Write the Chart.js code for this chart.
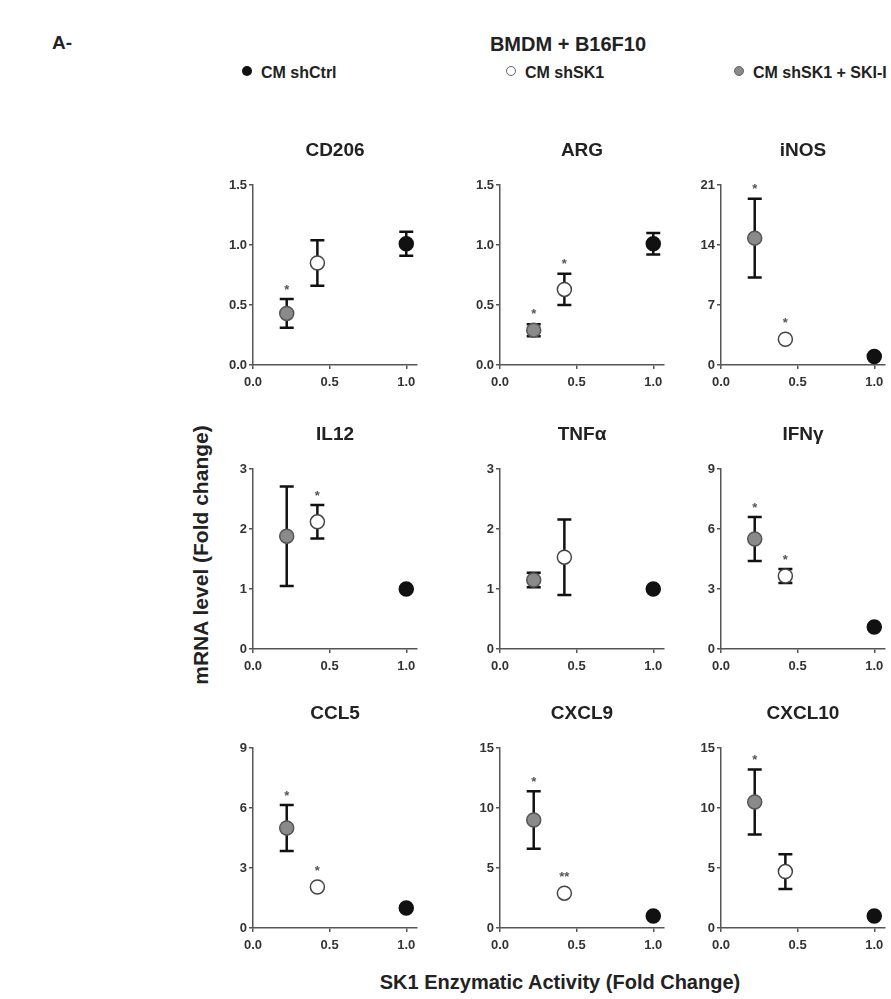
<!DOCTYPE html>
<html>
<head>
<meta charset="utf-8">
<script src="https://cdn.jsdelivr.net/npm/chart.js@4.4.0/dist/chart.umd.min.js"></script>
<style>
  body { margin: 0; background: #fff; font-family: 'Liberation Sans', Arial, sans-serif; }
  #page { position: relative; width: 891px; height: 999px; overflow: hidden; }
  .panel { position: absolute; }
  .txt { position: absolute; font-weight: bold; color: #222; white-space: nowrap; transform: translate(-50%, -50%); }
  .leg { position: absolute; font-weight: bold; color: #222; white-space: nowrap; transform: translate(0, -50%); font-size: 16px; }
  .dot { display: inline-block; width: 10px; height: 10px; border-radius: 50%; margin-right: 9px; vertical-align: 2px; box-sizing: border-box; }
</style>
</head>
<body>
<div id="page">
  <div class="txt" style="left:62px; top:43px; font-size:19px;">A-</div>
  <div class="txt" style="left:568px; top:44px; font-size:20px;">BMDM + B16F10</div>
  <div class="leg" style="left:242px; top:73px;"><span class="dot" style="background:#111;"></span>CM shCtrl</div>
  <div class="leg" style="left:506px; top:73px;"><span class="dot" style="background:#fff; border:1.5px solid #666;"></span>CM shSK1</div>
  <div class="leg" style="left:734px; top:73px;"><span class="dot" style="background:#8a8a8a; border:1.5px solid #666;"></span>CM shSK1 + SKI-I</div>
  <div class="txt" style="left:201px; top:555px; font-size:21px; transform: translate(-50%, -50%) rotate(-90deg);">mRNA level (Fold change)</div>
  <div class="txt" style="left:560px; top:982px; font-size:20px;">SK1 Enzymatic Activity (Fold Change)</div>
</div>
<script>
// panels and groups
const genes = ['CD206', 'ARG', 'iNOS', 'IL12', 'TNFα', 'IFNγ', 'CCL5', 'CXCL9', 'CXCL10'];
const groups = ['CM shCtrl', 'CM shSK1', 'CM shSK1 + SKI-I'];
// x position of each group (SK1 activity, fold change)
const sk1Activity = [1.0, 0.42, 0.22];
const xTicks = [0.0, 0.5, 1.0];

// y axis range per panel
const yMax = [1.5, 1.5, 21, 3, 3, 9, 9, 15, 15];
const yStep = [0.5, 0.5, 7, 1, 1, 3, 3, 5, 5];

// mean +/- error
const ctrlMean = [1.01, 1.01, 1.0, 1.0, 1.0, 1.1, 1.0, 1.0, 1.0];
const ctrlErr  = [0.10, 0.09, 0, 0, 0, 0, 0, 0, 0];
const shMean   = [0.85, 0.63, 3.0, 2.12, 1.53, 3.65, 2.05, 2.9, 4.7];
const shErr    = [0.19, 0.13, 0, 0.28, 0.63, 0.35, 0, 0, 1.45];
const skiMean  = [0.43, 0.29, 14.8, 1.88, 1.15, 5.5, 5.0, 9.0, 10.5];
const skiErr   = [0.12, 0.05, 4.6, 0.83, 0.12, 1.1, 1.15, 2.4, 2.7];

// significance marks
const shStars  = ['', '*', '*', '*', '', '*', '*', '**', ''];
const skiStars = ['*', '*', '*', '', '', '*', '*', '*', '*'];

// layout of the 3x3 grid
const colLeft = [203, 450, 671];
const rowTop = [139, 423, 702];
const POINT_R = 7;

const axisColor = '#555';
const fontFamily = "'Liberation Sans', Arial, sans-serif";
const tickFont = { family: fontFamily, size: 13, weight: 'bold' };

// draws error bars behind the markers and asterisks above them
const errorBars = {
    id: 'errorBars',
    beforeDatasetsDraw(chart) {
        const { ctx, scales: { y } } = chart;
        chart.data.datasets.forEach((ds, d) => {
            chart.getDatasetMeta(d).data.forEach((pt, k) => {
                const e = ds.err[k];
                if (!e) return;
                const v = ds.data[k].y;
                const top = y.getPixelForValue(v + e);
                const bot = y.getPixelForValue(v - e);
                ctx.save();
                ctx.strokeStyle = '#111';
                ctx.lineWidth = 2.5;
                ctx.beginPath();
                ctx.moveTo(pt.x, top); ctx.lineTo(pt.x, bot);
                ctx.moveTo(pt.x - 7, top); ctx.lineTo(pt.x + 7, top);
                ctx.moveTo(pt.x - 7, bot); ctx.lineTo(pt.x + 7, bot);
                ctx.stroke();
                ctx.restore();
            });
        });
    },
    afterDatasetsDraw(chart) {
        const { ctx, scales: { y } } = chart;
        chart.data.datasets.forEach((ds, d) => {
            chart.getDatasetMeta(d).data.forEach((pt, k) => {
                const s = ds.stars[k];
                if (!s) return;
                const v = ds.data[k].y;
                const top = Math.min(y.getPixelForValue(v + ds.err[k]), pt.y - POINT_R);
                ctx.save();
                ctx.fillStyle = '#555';
                ctx.font = 'bold 13px ' + fontFamily;
                ctx.textAlign = 'center';
                ctx.textBaseline = 'middle';
                ctx.fillText(s, pt.x, top - 9);
                ctx.restore();
            });
        });
    }
};

function makePanel(i) {
    const div = document.createElement('div');
    div.className = 'panel';
    div.style.left = colLeft[i % 3] + 'px';
    div.style.top = rowTop[Math.floor(i / 3)] + 'px';
    const canvas = document.createElement('canvas');
    canvas.width = 226;
    canvas.height = 256;
    div.appendChild(canvas);
    document.getElementById('page').appendChild(div);

    const step = yStep[i];
    new Chart(canvas, {
        type: 'scatter',
        data: {
            datasets: [
                {
                    label: groups[0],
                    data: [{ x: sk1Activity[0], y: ctrlMean[i] }],
                    err: [ctrlErr[i]], stars: [''],
                    backgroundColor: '#111', borderColor: '#111'
                },
                {
                    label: groups[1],
                    data: [{ x: sk1Activity[1], y: shMean[i] }],
                    err: [shErr[i]], stars: [shStars[i]],
                    backgroundColor: '#fff', borderColor: '#444'
                },
                {
                    label: groups[2],
                    data: [{ x: sk1Activity[2], y: skiMean[i] }],
                    err: [skiErr[i]], stars: [skiStars[i]],
                    backgroundColor: '#8a8a8a', borderColor: '#555'
                }
            ]
        },
        options: {
            responsive: false,
            animation: false,
            layout: { padding: { left: 10, right: 12, top: 0, bottom: 4 } },
            elements: { point: { radius: POINT_R, borderWidth: 1.5, pointStyle: 'circle' } },
            scales: {
                x: {
                    type: 'linear', min: 0, max: 1.07,
                    afterBuildTicks: s => { s.ticks = xTicks.map(v => ({ value: v })); },
                    afterFit: s => { s.height = 26; },
                    ticks: { callback: v => v.toFixed(1), maxRotation: 0, padding: 6, font: tickFont, color: '#333' },
                    grid: { drawOnChartArea: false, tickLength: 4, color: axisColor, lineWidth: 1.5 },
                    border: { color: axisColor, width: 1.5 }
                },
                y: {
                    min: 0, max: yMax[i],
                    afterFit: s => { s.width = 40; },
                    ticks: { stepSize: step, callback: v => step < 1 ? v.toFixed(1) : v, padding: 2, font: tickFont, color: '#333' },
                    grid: { drawOnChartArea: false, tickLength: 4, color: axisColor, lineWidth: 1.5 },
                    border: { color: axisColor, width: 1.5 }
                }
            },
            plugins: {
                legend: { display: false },
                tooltip: { enabled: false },
                title: {
                    display: true,
                    fullSize: false, // centre the panel title over the plot area
                    text: genes[i],
                    color: '#222',
                    font: { family: fontFamily, size: 19, weight: 'bold' },
                    padding: { top: 0, bottom: 23.2 }
                }
            }
        },
        plugins: [errorBars]
    });
}

genes.forEach((g, i) => makePanel(i));
</script>
</body>
</html>
